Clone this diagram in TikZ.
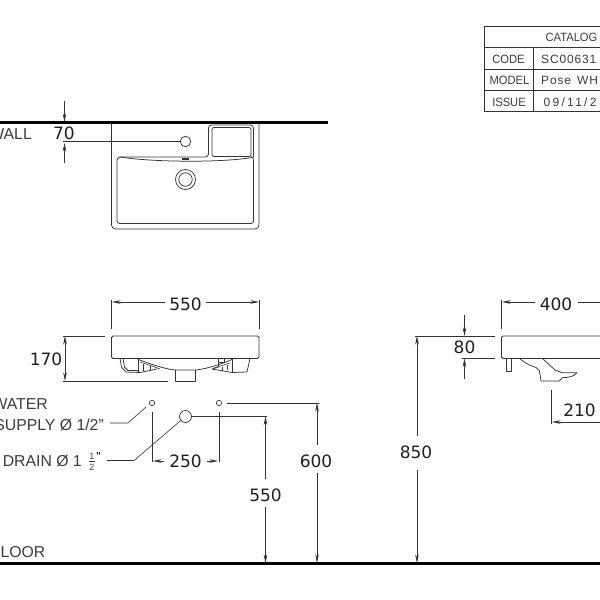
\documentclass[tikz,border=0pt]{standalone}
\usepackage{fontspec}
\setmainfont{Liberation Sans}
\newfontfamily\dimfont{DejaVu Sans}
\newfontfamily\tabhead[FakeStretch=0.93]{Liberation Sans}
\newfontfamily\tabval[LetterSpace=7]{Liberation Sans}
\newfontfamily\tabdate[LetterSpace=19]{Liberation Sans}
\usetikzlibrary{arrows.meta}
\definecolor{ink}{HTML}{333333}
\definecolor{lab}{HTML}{3C3C3C}
\tikzset{
  x=1pt,y=-1pt,
  part/.style={draw=ink,line width=0.75pt,line join=round},
  fine/.style={draw=ink,line width=0.6pt},
  heavy/.style={draw=black,line width=2.4pt},
  dimline/.style={draw=ink,line width=0.7pt},
  tip/.style={-{Stealth[length=8.5pt,width=3.6pt]}},
  dimtext/.style={inner sep=0pt,text=black!88,font=\dimfont\fontsize{17}{18}\selectfont},
  labeltext/.style={inner sep=0pt,anchor=east,text=lab,font=\fontsize{15.8}{18}\selectfont},
  tabletext/.style={inner sep=0pt,text=lab,font=\tabhead\fontsize{12}{13}\selectfont},
  tablevalue/.style={inner sep=0pt,anchor=west,text=lab,font=\tabval\fontsize{12}{13}\selectfont},
  tabledate/.style={inner sep=0pt,anchor=west,text=lab,font=\tabdate\fontsize{12}{13}\selectfont},
  tableline/.style={draw=ink,line width=0.7pt},
}
\begin{document}
\begin{tikzpicture}
\useasboundingbox (0,0) rectangle (600,600);
\clip (0,0) rectangle (600,600);
\fill[white] (0,0) rectangle (600,600);

% wall and floor
\coordinate (wallL) at (0,122.5); \coordinate (wallR) at (328,122.5);
\coordinate (floorL) at (0,563.5); \coordinate (floorR) at (600,563.5);
\draw[heavy] (wallL) -- (wallR);
\draw[heavy] (floorL) -- (floorR);
\node[labeltext] (wall) at (32,134) {WALL};
\node[labeltext] (floor) at (45.5,552) {FLOOR};

% table
\draw[tableline] (600,26.5) -- (484.5,26.5) -- (484.5,111.7) -- (600,111.7);
\draw[tableline] (484.5,47.5) -- (600,47.5) (484.5,69) -- (600,69) (484.5,90.5) -- (600,90.5);
\draw[tableline] (533.3,47.5) -- (533.3,111.7);
\node[tabletext] (tcat) at (571.5,37.5) {CATALOG};
\node[tabletext] (tc1) at (508.5,59) {CODE};
\node[tabletext] (tc2) at (509.5,80) {MODEL};
\node[tabletext] (tc3) at (509,102) {ISSUE};
\node[tablevalue] (tv1) at (541,59) {SC00631};
\node[tablevalue] (tv2) at (541,80.5) {Pose\hspace{2pt} WH};
\node[tabledate] (tv3) at (543.5,102) {09/11/2};

% top view
\draw[part,rounded corners=4pt] (111.5,122.5) -- (111.5,229) -- (259,229) -- (259,122.5);
\draw[part,rounded corners=2.5pt] (120,157) -- (117,158) -- (117,223.5) -- (253.5,223.5) -- (253.5,158) -- (252,157);
\draw[part] (120,157) .. controls (150,162) and (220,163) .. (252,157.5);
\draw[part,rounded corners=3pt] (120,157) -- (208.5,157) -- (208.5,125) -- (253.5,125) -- (253.5,157.5);
\draw[part,rounded corners=2pt] (212,156.5) -- (212,127.5) -- (251,127.5) -- (251,156.5) -- cycle;
\fill[ink] (182.3,157.8) rectangle (188.5,159.7);
\node[draw=ink,line width=0.75pt,circle,minimum size=10.5pt,inner sep=0pt] (tap) at (185.5,141.5) {};
\node[draw=ink,line width=0.75pt,circle,minimum size=20pt,inner sep=0pt] (drainO) at (185.5,179.5) {};
\node[draw=ink,line width=0.75pt,circle,minimum size=13.5pt,inner sep=0pt] (drainI) at (185.5,179.5) {};

% dimension 70
\coordinate (d70a) at (64.5,101); \coordinate (d70b) at (64.5,122);
\coordinate (d70c) at (64.5,163); \coordinate (d70d) at (64.5,143);
\coordinate (d70e) at (63,141.5);
\draw[dimline,tip] (d70a) -- (d70b);
\draw[dimline,tip] (d70c) -- (d70d);
\draw[dimline] (d70e) -- (tap);
\node[dimtext] (n70) at (64,133) {70};

% front view
\draw[part,rounded corners=1.5pt] (111.5,358.5) -- (111.5,336) -- (259,336) -- (259,358.5) -- cycle;
\draw[part] (120,358.5) -- (121.5,367) -- (126,372) -- (140,372.5) -- (157,369);
\draw[part] (123,358.5) -- (124.5,367) -- (128,370.5) -- (139,370.5);
\draw[fine] (138.5,358.5) -- (138.5,372);
\draw[fine] (140,362) -- (152,366) -- (160,369);
\draw[fine] (143,364) -- (143,371) (150,366) -- (150,370);
\draw[part] (138.5,359.5) .. controls (150,364) and (165,369) .. (175,370) -- (196,370) .. controls (206,369) and (222,364) .. (233,359);
\draw[part] (175,370) -- (175,381) -- (195,381) -- (195,370);
\draw[part] (250,358.5) -- (247,372) -- (232,372.5) -- (212,369);
\draw[fine] (232.5,358.5) -- (232.5,372);
\draw[part] (218.5,358.5) -- (218.5,367) -- (212,369);
\draw[fine] (219,362) -- (224,362) -- (224,358.5);
\draw[fine] (214,368) -- (230,363);
\draw[fine] (222,367) -- (222,371) (227,365) -- (227,370);

% dimension 550 width
\coordinate (w1) at (111.5,300); \coordinate (w1b) at (111.5,329);
\coordinate (w2) at (259,300); \coordinate (w2b) at (259,329);
\draw[fine] (w1) -- (w1b) (w2) -- (w2b);
\node[dimtext] (n550w) at (185.5,304) {550};
\coordinate (w1a) at (112,302); \coordinate (w1c) at (165,302);
\coordinate (w2a) at (259,302); \coordinate (w2c) at (206,302);
\draw[dimline,tip] (w1c) -- (w1a);
\draw[dimline,tip] (w2c) -- (w2a);

% dimension 170
\coordinate (h1a) at (63,336); \coordinate (h1b) at (105,336);
\coordinate (h2a) at (63,381); \coordinate (h2b) at (168,381);
\draw[fine] (h1a) -- (h1b) (h2a) -- (h2b);
\coordinate (h3) at (65,336); \coordinate (h4) at (65,381);
\draw[dimline,{Stealth[length=8.5pt,width=3.6pt]}-{Stealth[length=8.5pt,width=3.6pt]}] (h3) -- (h4);
\node[dimtext] (n170) at (46,359) {170};

% rough-in
\node[draw=ink,line width=0.65pt,circle,minimum size=5.5pt,inner sep=0pt] (sL) at (152,403) {};
\node[draw=ink,line width=0.65pt,circle,minimum size=5.5pt,inner sep=0pt] (sR) at (219,403) {};
\node[draw=ink,line width=0.7pt,circle,minimum size=12pt,inner sep=0pt] (dr) at (185.5,416.5) {};
\node[labeltext] (water) at (48,404.5) {WATER};
\node[labeltext] (supply) at (104,424.5) {SUPPLY Ø 1/2"};
\node[labeltext] (drain) at (82,461) {DRAIN Ø 1};
\node[inner sep=0pt,text=lab,font=\fontsize{9}{10}\selectfont] (fa) at (92,456) {1};
\node[inner sep=0pt,text=lab,font=\fontsize{9}{10}\selectfont] (fb) at (92,467.3) {2};
\coordinate (fbarA) at (89,461.6); \coordinate (fbarB) at (95,461.6);
\draw[fine] (fbarA) -- (fbarB);
\node[inner sep=0pt,anchor=north,text=black,font=\fontsize{13}{14}\selectfont] (fq) at (98.5,452.5) {"};
\coordinate (l1a) at (110,423); \coordinate (l1b) at (128,423); \coordinate (l1c) at (146,407);
\draw[fine] (l1a) -- (l1b) -- (l1c);
\coordinate (l2a) at (107,460.5); \coordinate (l2b) at (134,460.5);
\draw[fine] (l2a) -- (l2b) -- (dr);

% dimension 250
\coordinate (e1a) at (152,412); \coordinate (e1b) at (152,461.5);
\coordinate (e2a) at (219,412); \coordinate (e2b) at (219,461.5);
\draw[fine] (e1a) -- (e1b) (e2a) -- (e2b);
\coordinate (a1) at (164,461); \coordinate (a2) at (153,461);
\coordinate (a3) at (207,461); \coordinate (a4) at (218,461);
\draw[dimline,tip] (a1) -- (a2);
\draw[dimline,tip] (a3) -- (a4);
\node[dimtext] (n250) at (185.5,461) {250};

% dimension 550 height
\coordinate (p1) at (267,416.5); \coordinate (p2) at (265.5,416.5);
\coordinate (p3) at (265.5,479); \coordinate (p4) at (265.5,507); \coordinate (p5) at (265.5,563);
\draw[fine] (dr) -- (p1);
\draw[dimline,tip] (p3) -- (p2);
\draw[dimline,tip] (p4) -- (p5);
\node[dimtext] (n550h) at (265.5,495) {550};

% dimension 600
\coordinate (q0) at (227,403); \coordinate (q1) at (319,403); \coordinate (q2) at (317,403);
\coordinate (q3) at (317,445); \coordinate (q4) at (317,473); \coordinate (q5) at (317,563);
\draw[fine] (q0) -- (q1);
\draw[dimline,tip] (q3) -- (q2);
\draw[dimline,tip] (q4) -- (q5);
\node[dimtext] (n600) at (316,461) {600};

% side view
\draw[part,rounded corners=1.5pt] (600,336) -- (501.5,336) -- (501.5,358.5) -- (600,358.5);
\draw[part] (506,358.5) -- (506,371) -- (511,371) -- (511,358.5);
\draw[part] (519.5,358.5) .. controls (524,362) and (528,365) .. (536,367.5) .. controls (539,369) and (540,371) .. (540,374) -- (541,381) -- (559.5,381) .. controls (561,378) and (562,377.5) .. (566,377.5) .. controls (572,377) and (575,375) .. (577,372.7) -- (562,372.7) -- (555,370) -- (542.5,358.5);

% dimension 400
\coordinate (s1) at (501.5,300); \coordinate (s1b) at (501.5,329);
\draw[fine] (s1) -- (s1b);
\coordinate (s2) at (535,302); \coordinate (s3) at (502,302);
\coordinate (s4) at (578,302); \coordinate (s5) at (600,302);
\draw[dimline,tip] (s2) -- (s3);
\draw[dimline] (s4) -- (s5);
\node[dimtext] (n400) at (556,304) {400};

% dimension 80
\coordinate (t1) at (415,336); \coordinate (t2) at (495,336);
\coordinate (t3) at (462,358); \coordinate (t4) at (495,358);
\draw[fine] (t1) -- (t2) (t3) -- (t4);
\coordinate (t5) at (464.5,315); \coordinate (t6) at (464.5,336);
\coordinate (t7) at (464.5,379); \coordinate (t8) at (464.5,358.5);
\draw[dimline,tip] (t5) -- (t6);
\draw[dimline,tip] (t7) -- (t8);
\node[dimtext] (n80) at (464.5,347) {80};

% dimension 850
\coordinate (u1) at (417,436); \coordinate (u2) at (417,336);
\coordinate (u3) at (417,470); \coordinate (u4) at (417,563);
\draw[dimline,tip] (u1) -- (u2);
\draw[dimline,tip] (u3) -- (u4);
\node[dimtext] (n850) at (416,452) {850};

% dimension 210
\coordinate (v1) at (551,390); \coordinate (v2) at (551,424);
\coordinate (v4) at (552,422); \coordinate (v5) at (600,422);
\draw[fine] (v1) -- (v2);
\draw[dimline,tip] (v5) -- (v4);
\node[dimtext] (n210) at (579.5,410.5) {210};
\end{tikzpicture}
\end{document}
